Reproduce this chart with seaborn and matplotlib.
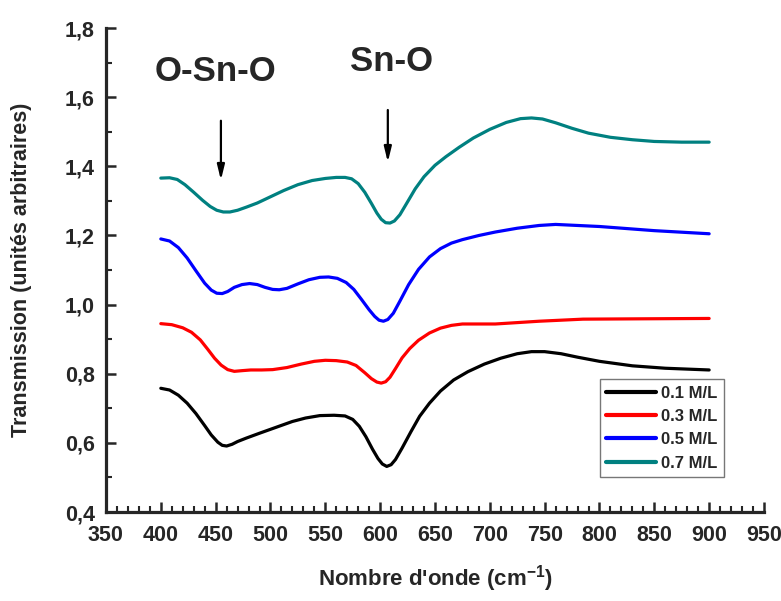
import seaborn as sns
import matplotlib
matplotlib.use("Agg")
import matplotlib.pyplot as plt
from matplotlib.ticker import MultipleLocator, FuncFormatter
import pandas as pd

# Spectres FTIR (nombre d'onde en cm-1, transmission)
x_01 = [400, 408, 416, 424, 432, 440, 446, 452, 456, 460, 465, 470, 478, 490, 505, 520, 532, 545,
        558, 568, 575, 581, 587, 593, 598, 602, 606, 610, 614, 620, 628, 636, 645, 655, 667, 680,
        695, 710, 725, 738, 750, 765, 780, 800, 830, 860, 900]
y_01 = [0.758, 0.753, 0.738, 0.715, 0.685, 0.650, 0.623, 0.602, 0.593, 0.591, 0.596, 0.604, 0.614,
        0.628, 0.645, 0.662, 0.672, 0.679, 0.680, 0.678, 0.668, 0.648, 0.618, 0.582, 0.555, 0.539,
        0.532, 0.537, 0.552, 0.585, 0.632, 0.677, 0.715, 0.750, 0.782, 0.806, 0.828, 0.845, 0.858,
        0.864, 0.864, 0.858, 0.848, 0.836, 0.823, 0.816, 0.811]

x_03 = [400, 410, 420, 428, 436, 443, 449, 455, 461, 467, 474, 482, 492, 502, 515, 528, 540, 550,
        560, 570, 578, 586, 592, 597, 601, 605, 609, 614, 620, 627, 635, 645, 655, 665, 675, 690,
        705, 720, 745, 785, 840, 900]
y_03 = [0.945, 0.942, 0.933, 0.920, 0.898, 0.870, 0.845, 0.825, 0.812, 0.807, 0.809, 0.811, 0.811,
        0.812, 0.818, 0.828, 0.836, 0.839, 0.838, 0.834, 0.824, 0.803, 0.786, 0.776, 0.773, 0.777,
        0.790, 0.815, 0.846, 0.873, 0.897, 0.918, 0.932, 0.940, 0.944, 0.944, 0.944, 0.947, 0.952,
        0.958, 0.959, 0.960]

x_05 = [400, 408, 416, 424, 432, 440, 446, 451, 456, 461, 467, 474, 481, 488, 495, 502, 508, 515,
        525, 535, 545, 553, 561, 569, 576, 583, 590, 595, 599, 603, 607, 612, 618, 626, 635, 645,
        655, 665, 675, 690, 705, 725, 745, 760, 800, 850, 900]
y_05 = [1.190, 1.184, 1.165, 1.135, 1.098, 1.062, 1.042, 1.033, 1.032, 1.038, 1.050, 1.058, 1.061,
        1.058, 1.050, 1.044, 1.043, 1.047, 1.060, 1.072, 1.079, 1.080, 1.076, 1.064, 1.044, 1.015,
        0.985, 0.966, 0.955, 0.952, 0.957, 0.975, 1.010, 1.058, 1.102, 1.138, 1.162, 1.178, 1.188,
        1.200, 1.210, 1.221, 1.229, 1.232, 1.226, 1.214, 1.205]

x_07 = [400, 408, 415, 422, 430, 438, 445, 451, 457, 463, 470, 478, 488, 500, 512, 525, 538, 550,
        560, 568, 574, 580, 586, 592, 597, 601, 605, 609, 613, 618, 624, 632, 640, 650, 660, 672,
        685, 700, 715, 728, 738, 748, 760, 775, 790, 810, 830, 850, 875, 900]
y_07 = [1.366, 1.367, 1.362, 1.347, 1.325, 1.302, 1.284, 1.273, 1.268, 1.268, 1.273, 1.282, 1.294,
        1.312, 1.330, 1.347, 1.359, 1.365, 1.368, 1.368, 1.364, 1.350, 1.325, 1.293, 1.265, 1.247,
        1.237, 1.236, 1.242, 1.260, 1.292, 1.335, 1.370, 1.403, 1.428, 1.455, 1.482, 1.507, 1.527,
        1.538, 1.540, 1.537, 1.526, 1.510, 1.496, 1.484, 1.477, 1.472, 1.470, 1.470]

labels = ["0.1 M/L", "0.3 M/L", "0.5 M/L", "0.7 M/L"]
couleurs = ["#000000", "#ff0000", "#0000ff", "#008080"]

frames = []
for lab, xs, ys in zip(labels, [x_01, x_03, x_05, x_07], [y_01, y_03, y_05, y_07]):
    frames.append(pd.DataFrame({"nu": xs, "T": ys, "conc": lab}))
df = pd.concat(frames, ignore_index=True)

sns.set_style("ticks")
plt.rcParams["font.family"] = ["Liberation Sans", "DejaVu Sans"]
plt.rcParams["font.weight"] = "bold"
plt.rcParams["axes.labelweight"] = "bold"
plt.rcParams["mathtext.fontset"] = "custom"
plt.rcParams["mathtext.rm"] = "Liberation Sans:bold"
plt.rcParams["mathtext.bf"] = "Liberation Sans:bold"

fig = plt.figure(figsize=(7.81, 6.01), dpi=100)
ax = fig.add_axes([0.1357, 0.148, 0.8425, 0.8053])

sns.lineplot(data=df, x="nu", y="T", hue="conc", palette=dict(zip(labels, couleurs)),
             sort=False, estimator=None, linewidth=2.3, ax=ax)

ax.set_xlim(350, 950)
ax.set_ylim(0.4, 1.8)
ax.xaxis.set_major_locator(MultipleLocator(50))
ax.xaxis.set_minor_locator(MultipleLocator(10))
ax.yaxis.set_major_locator(MultipleLocator(0.2))
ax.yaxis.set_minor_locator(MultipleLocator(0.1))
ax.yaxis.set_major_formatter(FuncFormatter(lambda v, p: f"{v:.1f}".replace(".", ",")))

ax.tick_params(which="major", direction="in", length=7, width=1.8, labelsize=15.5)
ax.tick_params(axis="x", which="major", pad=9)
ax.tick_params(axis="y", which="major", pad=8)
ax.tick_params(which="minor", direction="in", length=4, width=1.5)
for lab in ax.get_xticklabels() + ax.get_yticklabels():
    lab.set_fontweight("bold")

sns.despine(ax=ax)
for s in ["left", "bottom"]:
    ax.spines[s].set_linewidth(2.3)

ax.set_xlabel("Nombre d'onde (cm$^{-1}$)", fontsize=16)
ax.set_ylabel("Transmission (unités arbitraires)", fontsize=15.5)
ax.xaxis.set_label_coords(0.5, -0.105)
ax.yaxis.set_label_coords(-0.112, 0.5)

# annotations des bandes
ax.text(449.5, 1.673, "O-Sn-O", fontsize=25, fontweight="bold", ha="center", va="center")
ax.text(610.4, 1.702, "Sn-O", fontsize=25, fontweight="bold", ha="center", va="center")
ax.annotate("", xy=(454.8, 1.352), xytext=(454.8, 1.540),
            arrowprops=dict(arrowstyle="-|>,head_length=0.9,head_width=0.22", color="black", lw=1.6))
ax.annotate("", xy=(607, 1.404), xytext=(607, 1.571),
            arrowprops=dict(arrowstyle="-|>,head_length=0.9,head_width=0.22", color="black", lw=1.6))

leg = ax.legend(loc="lower right", bbox_to_anchor=(0.94, 0.072), fontsize=12, frameon=True,
                fancybox=False, handlelength=3.0, handletextpad=0.3, labelspacing=0.5,
                borderpad=0.4, borderaxespad=0)
leg.get_frame().set_edgecolor("#555555")
leg.get_frame().set_linewidth(1.0)
for t in leg.get_texts():
    t.set_fontweight("bold")
for h in leg.get_lines():
    h.set_linewidth(3)

fig.savefig("out.png", dpi=100)
plt.close(fig)
